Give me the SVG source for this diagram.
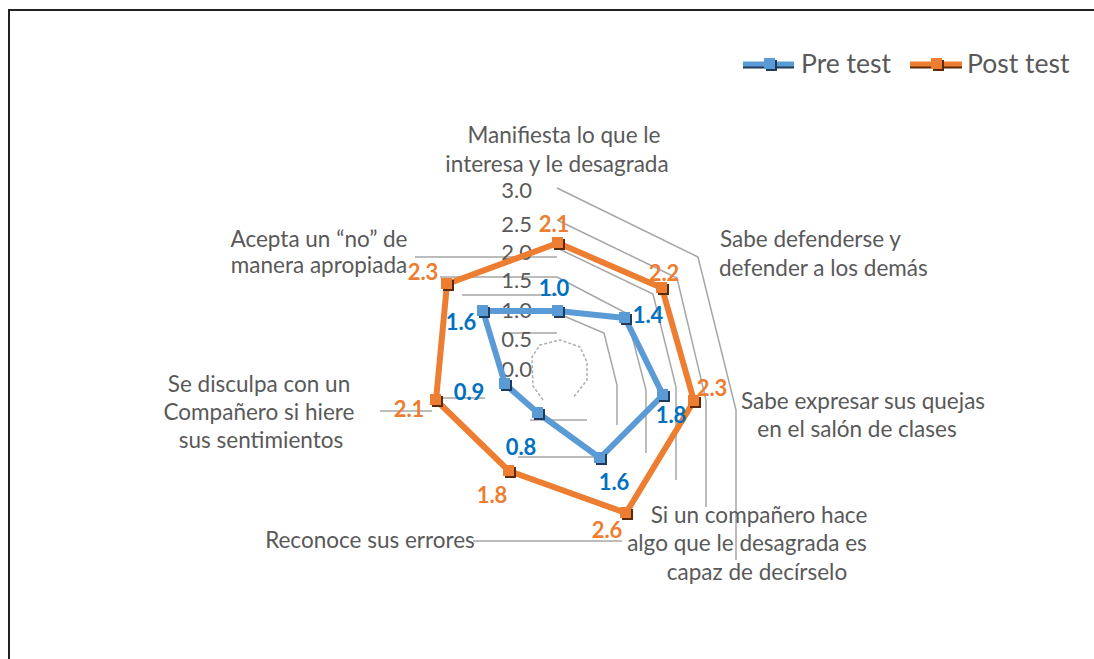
<svg xmlns="http://www.w3.org/2000/svg" width="1094" height="659" viewBox="0 0 1094 659">
<style>
.grid{fill:none;stroke:#A6A6A6;stroke-width:1.5}
.cat{font-family:Lato,"Liberation Sans",sans-serif;font-size:22.5px;fill:#595959}
.ax{font-family:Lato,"Liberation Sans",sans-serif;font-size:22px;fill:#595959;text-anchor:end}
.lblPre{font-family:Lato,"Liberation Sans",sans-serif;font-size:22px;font-weight:bold;fill:#0070C0;text-anchor:middle}
.lblPost{font-family:Lato,"Liberation Sans",sans-serif;font-size:22px;font-weight:bold;fill:#ED7D31;text-anchor:middle}
.pre{fill:none;stroke:#5B9BD5;stroke-width:6;stroke-linejoin:round}
.post{fill:none;stroke:#ED7D31;stroke-width:6;stroke-linejoin:round}
.leg{font-family:Lato,"Liberation Sans",sans-serif;font-size:26.5px;fill:#595959}
</style>
<defs>
<g id="mPre"><rect x="-4" y="-4" width="11" height="11" fill="#1F3A5A"/><rect x="-6" y="-6" width="11" height="11" fill="#5B9BD5"/></g>
<g id="mPost"><rect x="-4" y="-4" width="11" height="11" fill="#5A2A0A"/><rect x="-6" y="-6" width="11" height="11" fill="#ED7D31"/></g>
</defs>
<rect width="1094" height="659" fill="#FFFFFF"/>
<path d="M9,659 V10 H1094" fill="none" stroke="#222222" stroke-width="2"/>

<g id="gridlines">
<polyline class="grid" points="557,188 698,257 736,410 736,560"/>
<polyline class="grid" points="557,220 677,278 706,400 706,507"/>
<polyline class="grid" points="557,248 653,294 676,387 676,480"/>
<polyline class="grid" points="557,277 626,313 646,390 646,453"/>
<polyline class="grid" points="557,313 604,333 617,385 617,425"/>
<line class="grid" x1="415" y1="257" x2="557" y2="257"/>
<line class="grid" x1="440" y1="277" x2="557" y2="277"/>
<line class="grid" x1="462" y1="295" x2="557" y2="295"/>
<line class="grid" x1="503" y1="333" x2="557" y2="333"/>
<line class="grid" x1="436" y1="398" x2="485" y2="398"/>
<line class="grid" x1="380" y1="411" x2="432" y2="411"/>
<line class="grid" x1="530" y1="420" x2="587" y2="420"/>
<line class="grid" x1="518" y1="457" x2="597" y2="457"/>
<line class="grid" x1="473" y1="541" x2="622" y2="541"/>
<polyline points="543,400 533,386 532,357 540,345 560,340 580,347 587,362 587,380 573,398" fill="none" stroke="#8C8C8C" stroke-width="1.5" stroke-dasharray="3,2" opacity="0.7"/>
</g>

<g id="axis-labels">
<text class="ax" x="532" y="198">3.0</text>
<text class="ax" x="532" y="232">2.5</text>
<text class="ax" x="532" y="260">2.0</text>
<text class="ax" x="532" y="288">1.5</text>
<text class="ax" x="532" y="318">1.0</text>
<text class="ax" x="532" y="347">0.5</text>
<text class="ax" x="532" y="377">0.0</text>
</g>

<g id="cat-manifiesta">
<text class="cat" x="564" y="143" text-anchor="middle">Manifiesta lo que le</text>
<text class="cat" x="557" y="172" text-anchor="middle">interesa y le desagrada</text>
</g>
<g id="cat-defenderse">
<text class="cat" x="720" y="247">Sabe defenderse y</text>
<text class="cat" x="719" y="276">defender a los demás</text>
</g>
<g id="cat-quejas">
<text class="cat" x="863" y="409" text-anchor="middle">Sabe expresar sus quejas</text>
<text class="cat" x="857" y="437" text-anchor="middle">en el salón de clases</text>
</g>
<g id="cat-companero">
<text class="cat" x="759" y="523" text-anchor="middle">Si un compañero hace</text>
<text class="cat" x="747" y="551" text-anchor="middle">algo que le desagrada es</text>
<text class="cat" x="757" y="580" text-anchor="middle">capaz de decírselo</text>
</g>
<g id="cat-reconoce">
<text class="cat" x="370" y="548" text-anchor="middle">Reconoce sus errores</text>
</g>
<g id="cat-disculpa">
<text class="cat" x="259" y="392" text-anchor="middle">Se disculpa con un</text>
<text class="cat" x="259" y="420" text-anchor="middle">Compañero si hiere</text>
<text class="cat" x="261" y="448" text-anchor="middle">sus sentimientos</text>
</g>
<g id="cat-acepta">
<text class="cat" x="319" y="247" text-anchor="middle">Acepta un “no” de</text>
<text class="cat" x="319" y="273" text-anchor="middle">manera apropiada</text>
</g>

<g id="series-pre">
<polygon class="pre" points="558,311 625,318 663,395 600,458 538,413 505,384 483,311"/>
<use href="#mPre" x="558" y="311"/>
<use href="#mPre" x="625" y="318"/>
<use href="#mPre" x="663" y="395"/>
<use href="#mPre" x="600" y="458"/>
<use href="#mPre" x="538" y="413"/>
<use href="#mPre" x="505" y="384"/>
<use href="#mPre" x="483" y="311"/>
</g>
<g id="series-post">
<polygon class="post" points="558,243 662,288 694,401 626,513 509,471 436,400 447,284"/>
<use href="#mPost" x="558" y="243"/>
<use href="#mPost" x="662" y="288"/>
<use href="#mPost" x="694" y="401"/>
<use href="#mPost" x="626" y="513"/>
<use href="#mPost" x="509" y="471"/>
<use href="#mPost" x="436" y="400"/>
<use href="#mPost" x="447" y="284"/>
</g>

<g id="labels-pre">
<text class="lblPre" x="554" y="296">1.0</text>
<text class="lblPre" x="648" y="323">1.4</text>
<text class="lblPre" x="671" y="423">1.8</text>
<text class="lblPre" x="614" y="490">1.6</text>
<text class="lblPre" x="521" y="455">0.8</text>
<text class="lblPre" x="469" y="400">0.9</text>
<text class="lblPre" x="461" y="330">1.6</text>
</g>
<g id="labels-post">
<text class="lblPost" x="554" y="232">2.1</text>
<text class="lblPost" x="664" y="281">2.2</text>
<text class="lblPost" x="712" y="396">2.3</text>
<text class="lblPost" x="607" y="538">2.6</text>
<text class="lblPost" x="492" y="503">1.8</text>
<text class="lblPost" x="409" y="417">2.1</text>
<text class="lblPost" x="423" y="280">2.3</text>
</g>

<g id="legend">
<line x1="743" y1="66" x2="794" y2="66" stroke="#1F3A5A" stroke-width="5"/>
<line x1="743" y1="64" x2="794" y2="64" stroke="#5B9BD5" stroke-width="5"/>
<use href="#mPre" x="770" y="64"/>
<text class="leg" x="801" y="73">Pre test</text>
<line x1="910" y1="66" x2="962" y2="66" stroke="#5A2A0A" stroke-width="5"/>
<line x1="910" y1="64" x2="962" y2="64" stroke="#ED7D31" stroke-width="5"/>
<use href="#mPost" x="937" y="64"/>
<text class="leg" x="967" y="73">Post test</text>
</g>
</svg>
